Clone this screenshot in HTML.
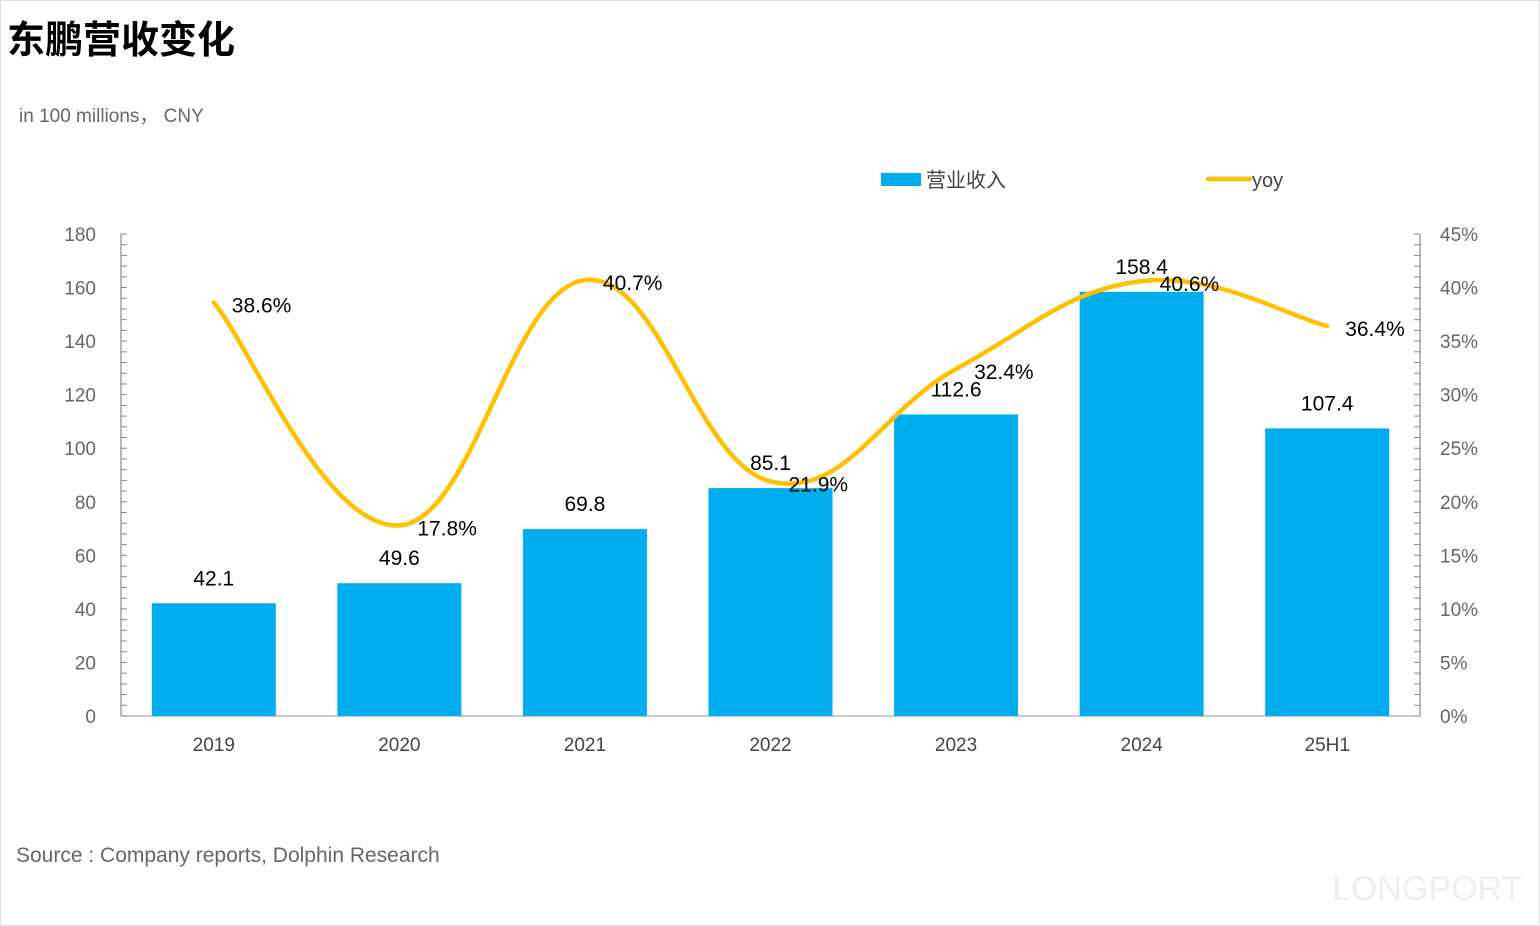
<!DOCTYPE html>
<html><head><meta charset="utf-8"><style>
body{margin:0;background:#fff;}
#wrap{position:relative;width:1540px;height:926px;overflow:hidden;font-family:"Liberation Sans","Noto Sans CJK SC",sans-serif;border:1px solid #ddd;box-sizing:border-box;}
#chart{position:absolute;left:-1px;top:-1px;}
</style></head><body>
<div id="wrap">
<svg id="chart" width="1540" height="926"></svg>
</div>
<script>
const categories=["2019","2020","2021","2022","2023","2024","25H1"];
const revenue=[42.1,49.6,69.8,85.1,112.6,158.4,107.4];
const yoy=[38.6,17.8,40.7,21.9,32.4,40.6,36.4];
const leftTicks=[0,20,40,60,80,100,120,140,160,180];
const rightTicks=[0,5,10,15,20,25,30,35,40,45];

const NS="http://www.w3.org/2000/svg";
const svg=document.getElementById('chart');
const X0=121,X1=1420,Y0=716,Y1=234;
const band=(X1-X0)/categories.length;
const xc=i=>X0+band*(i+0.5);
const yL=v=>Y0-(v/180)*(Y0-Y1);
const yR=v=>Y0-(v/45)*(Y0-Y1);
function el(tag,attrs,txt){const e=document.createElementNS(NS,tag);for(const k in attrs)e.setAttribute(k,attrs[k]);if(txt!=null)e.textContent=txt;svg.appendChild(e);return e;}

let t;
t=el('text',{x:7,y:53,'font-size':38,'font-weight':'bold',fill:'#000'},'东鹏营收变化');


t=el('text',{x:19,y:122,'font-size':19,fill:'#666'},'in 100 millions， CNY');


t=el('text',{x:16,y:862,'font-size':21,fill:'#666'},'Source : Company reports, Dolphin Research');


t=el('text',{x:1332,y:900,'font-size':34,fill:'#eee'},'LONGPORT');



let a=el('line',{x1:X0,y1:Y1,x2:X0,y2:Y0,stroke:'#888','stroke-width':1.2});


a=el('line',{x1:X1,y1:Y1,x2:X1,y2:Y0,stroke:'#888','stroke-width':1.2});


a=el('line',{x1:X0,y1:Y0,x2:X1,y2:Y0,stroke:'#aaa','stroke-width':1.2});


for(let v=0;v<=180;v+=4){
  el('line',{x1:X0,y1:yL(v),x2:X0+6,y2:yL(v),stroke:'#888','stroke-width':1});
  el('line',{x1:X1,y1:yL(v),x2:X1-6,y2:yL(v),stroke:'#888','stroke-width':1});
}
leftTicks.forEach(v=>{const e=el('text',{x:96,y:yL(v)+7,'font-size':19,fill:'#666','text-anchor':'end'},v);

});
rightTicks.forEach(v=>{const e=el('text',{x:1440,y:yR(v)+7,'font-size':19,fill:'#666'},v+'%');

});

const bw=124;
revenue.forEach((v,i)=>{
  const b=el('rect',{x:xc(i)-bw/2,y:yL(v),width:bw,height:Y0-yL(v),fill:'#00AEEF'});
  
  
  const l=el('text',{x:xc(i),y:yL(v)-18,'font-size':21,fill:'#000','text-anchor':'middle'},v.toFixed(1));
  
  
  const c=el('text',{x:xc(i),y:751,'font-size':19,fill:'#444','text-anchor':'middle'},categories[i]);
  
  
});

const pts=yoy.map((v,i)=>[xc(i),yR(v)]);
let d='M'+pts[0][0]+','+pts[0][1];
for(let i=0;i<pts.length-1;i++){
  const p0=pts[Math.max(0,i-1)],p1=pts[i],p2=pts[i+1],p3=pts[Math.min(pts.length-1,i+2)];
  const k=1/5;
  d+=` C${p1[0]+(p2[0]-p0[0])*k},${p1[1]+(p2[1]-p0[1])*k} ${p2[0]-(p3[0]-p1[0])*k},${p2[1]-(p3[1]-p1[1])*k} ${p2[0]},${p2[1]}`;
}
const ln=el('path',{d:d,fill:'none',stroke:'#FFC000','stroke-width':4.5,'stroke-linecap':'round'});


yoy.forEach((v,i)=>{
  const l=el('text',{x:xc(i)+18,y:yR(v)+10,'font-size':21,fill:'#000'},v.toFixed(1)+'%');
  
  
});

let g=el('rect',{x:881,y:173,width:40,height:13,fill:'#00AEEF'});


g=el('text',{x:926,y:187,'font-size':20,fill:'#444'},'营业收入');


g=el('line',{x1:1208,y1:179,x2:1250,y2:179,stroke:'#FFC000','stroke-width':4.5,'stroke-linecap':'round'});


g=el('text',{x:1252,y:187,'font-size':20,fill:'#444'},'yoy');


</script>
</body></html>
